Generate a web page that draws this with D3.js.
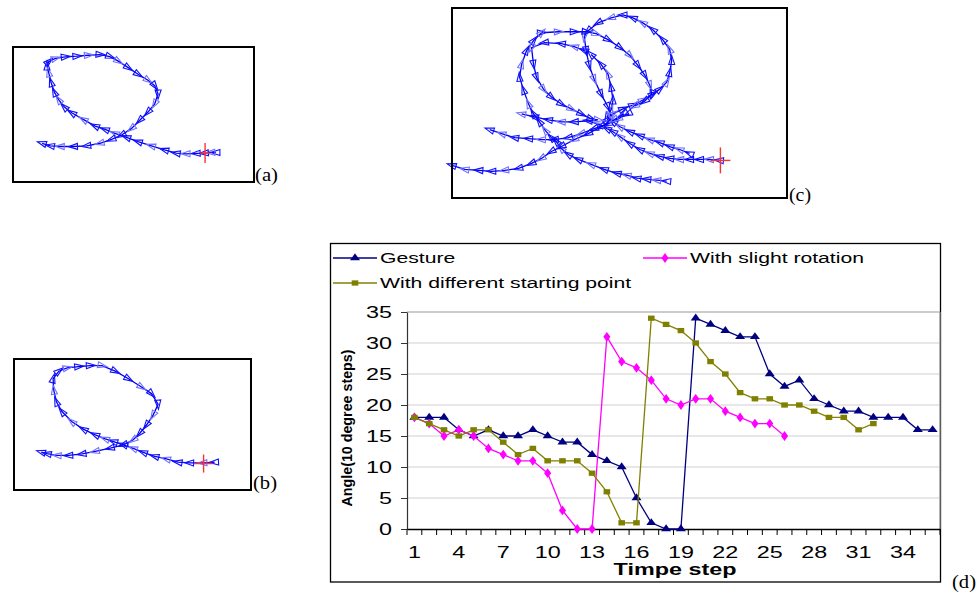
<!DOCTYPE html>
<html><head><meta charset="utf-8">
<script src="https://cdn.jsdelivr.net/npm/d3@7"></script>
<style>body{margin:0;background:#fff}svg{display:block}</style>
</head><body><svg id="fig" width="978" height="594"></svg>
<script>
// ---------- DATA : chart (d) ----------
const timeSteps = [1,2,3,4,5,6,7,8,9,10,11,12,13,14,15,16,17,18,19,20,21,22,23,24,25,26,27,28,29,30,31,32,33,34,35,36];
const gesture = [18,18,18,16,15,16,15,15,16,15,14,14,12,11,10,5,1,0,0,34,33,32,31,31,25,23,24,21,20,19,19,18,18,18,16,16];
const slightRotation = [18,17,15,16,15,13,12,11,11,9,3,0,0,31,27,26,24,21,20,21,21,19,18,17,17,15];
const differentStart = [18,17,16,15,16,16,14,12,13,11,11,11,9,6,1,1,34,33,32,30,27,25,22,21,21,20,20,19,18,18,16,17];
const yTickValues = [0,5,10,15,20,25,30,35];
const xTickLabels = [1,4,7,10,13,16,19,22,25,28,31,34];
const seriesNames = ["Gesture","With slight rotation","With different starting point"];
const xTitle = "Timpe step";
const yTitle = "Angle(10 degree steps)";
const panelLabels = ["(a)","(b)","(c)","(d)"];

// ---------- DATA : trajectories (pen coordinates) ----------
// (a) and (b): units 0-100 across the frame, y upward
const trajA = [[84.2,21.9],[82.1,21.9],[79.4,21.4],[76.0,21.2],[71.8,20.9],[67.7,21.4],[62.9,23.8],[57.4,26.8],[51.9,29.9],[47.1,33.1],[42.3,36.0],[38.2,38.9],[34.1,41.4],[29.3,46.2],[24.5,51.1],[21.3,55.5],[19.0,60.8],[17.2,66.4],[15.8,73.7],[14.8,81.0],[14.1,85.9],[14.8,89.1],[17.6,91.5],[21.7,92.7],[26.5,93.2],[31.3,93.9],[36.1,94.4],[40.2,92.9],[43.7,89.5],[47.8,84.7],[51.9,79.8],[56.0,75.4],[58.8,71.3],[60.2,65.2],[58.8,57.9],[56.0,51.8],[52.6,45.7],[49.2,39.7],[45.1,34.8],[40.9,31.6],[36.1,28.7],[30.6,26.8],[25.1,26.3],[19.6,26.3],[15.5,26.8],[12.1,28.7]];
const crossA = [79.7,21.4];
const trajB = [[84.6,21.2],[79.7,20.7],[74.1,20.7],[69.2,21.2],[64.3,23.7],[59.4,25.7],[54.5,28.7],[50.3,31.7],[46.2,34.5],[42.0,37.0],[38.5,39.0],[34.3,42.1],[29.4,46.3],[24.5,52.1],[20.3,59.7],[17.9,67.3],[16.8,76.1],[16.5,84.9],[18.9,90.7],[22.4,93.2],[27.3,94.2],[32.2,95.0],[37.1,95.0],[42.7,90.7],[48.3,84.9],[53.8,78.6],[58.0,73.6],[60.8,65.5],[58.7,57.2],[55.9,49.6],[53.1,43.3],[50.3,38.3],[46.2,34.5],[40.6,32.0],[34.3,29.5],[28.7,27.5],[23.1,26.4],[18.2,26.4],[14.0,27.7],[11.5,29.0]];
const crossB = [80.0,20.2];
// (c): units 0-337 across, 0-192 up
const trajC = [
 [[269,38],[259,39],[249,39],[239,39],[229,39],[219,40],[209,42],[199,45],[189,49],[179,55],[169,62],[162,67],[156,70],[149,74],[137,78],[123,77],[110,77],[97,79],[83,82],[70,85]],
 [[239,45],[229,49],[219,52],[209,56],[199,59],[189,63],[179,67],[169,72],[162,77],[156,82],[160,89],[162,99],[160,112],[157,125],[150,135],[140,145]],
 [[156,79],[162,85],[172,90],[182,94],[192,99],[202,105],[209,110],[216,117],[219,127],[221,139],[219,150],[212,160],[202,170],[192,177],[182,182],[172,185],[160,182],[147,177],[137,169],[133,163],[135,149],[138,134],[143,120],[150,105],[157,92],[160,82]],
 [[90,167],[107,168],[123,168],[135,168],[145,166],[157,160],[169,152],[179,144],[187,134],[194,124],[199,114],[201,105],[194,98],[184,93]],
 [[216,17],[206,18],[196,19],[186,20],[176,23],[166,25],[153,29],[140,34],[127,39],[117,44],[110,50],[105,57],[100,61],[94,68],[88,77],[82,85],[77,95],[72,109],[68,122],[70,135],[75,149],[82,159],[90,167]],
 [[133,149],[123,153],[110,156],[93,157],[80,152],[82,135],[85,122],[92,110],[100,102],[110,95],[120,90],[130,85],[140,80],[147,79]],
 [[177,85],[167,80],[157,75],[143,70],[130,65],[117,61],[103,59],[90,59],[77,60],[63,61],[50,65],[38,69]],
 [[173,85],[163,79],[150,72],[137,65],[123,59],[110,52],[100,47],[90,40],[80,35],[67,30],[53,28],[40,27],[27,28],[13,29],[0,33]]
];
const crossC = [270,38];

// ---------- DRAWING ----------
const svg = d3.select("#fig");
svg.append("rect").attr("width",978).attr("height",594).attr("fill","#fff");

function drawPanel(cfg){
  const sx = d3.scaleLinear().domain(cfg.xDomain).range([cfg.box[0], cfg.box[2]]);
  const sy = d3.scaleLinear().domain(cfg.yDomain).range([cfg.box[3], cfg.box[1]]);
  const g = svg.append("g");
  const line = d3.line().x(d=>sx(d[0])).y(d=>sy(d[1]));
  cfg.strokes.forEach(st=>{
    g.append("path").attr("d", line(st)).attr("fill","none").attr("stroke","#0000ee").attr("stroke-width",1.3);
    const pts = st.map(d=>[sx(d[0]), sy(d[1])]);
    pts.forEach((p,i)=>{
      const a = pts[Math.max(i-1,0)], b = pts[Math.min(i+1,pts.length-1)];
      const ang = Math.atan2(b[1]-a[1], b[0]-a[0])*180/Math.PI;
      g.append("path").attr("d","M5,0L-4,-3L-4,3Z")
        .attr("transform",`translate(${p[0]},${p[1]}) rotate(${ang})`)
        .attr("fill","none").attr("stroke", i%3===1 ? "#7070ff" : "#1010ff").attr("stroke-width",1.1);
    });
  });
  const cx = sx(cfg.cross[0]), cy = sy(cfg.cross[1]);
  g.append("line").attr("x1",cx).attr("x2",cx).attr("y1",cy-cfg.crossSize[1]).attr("y2",cy+cfg.crossSize[1]).attr("stroke","#ff3030").attr("stroke-width",1.4);
  g.append("line").attr("x1",cx-cfg.crossSize[0]).attr("x2",cx+cfg.crossSize[0]).attr("y1",cy).attr("y2",cy).attr("stroke","#ff3030").attr("stroke-width",1.4);
  g.append("rect").attr("x",cfg.box[0]).attr("y",cfg.box[1]).attr("width",cfg.box[2]-cfg.box[0]).attr("height",cfg.box[3]-cfg.box[1])
    .attr("fill","none").attr("stroke","#000").attr("stroke-width",2);
  svg.append("text").attr("x",cfg.label[0]).attr("y",cfg.label[1]).text(cfg.labelText)
    .attr("font-family","'Liberation Serif','Times New Roman',serif").attr("font-size",19)
    .attr("textLength",cfg.label[2]).attr("lengthAdjust","spacingAndGlyphs");
}

drawPanel({box:[13,47,254,182], xDomain:[0,100], yDomain:[0,100], strokes:[trajA], cross:crossA, crossSize:[5,10], label:[255,181,23], labelText:panelLabels[0]});
drawPanel({box:[14,359,251,490], xDomain:[0,100], yDomain:[0,100], strokes:[trajB], cross:crossB, crossSize:[9,9], label:[253,489,24], labelText:panelLabels[1]});
drawPanel({box:[452,8,787,198], xDomain:[0,337], yDomain:[0,192], strokes:trajC, cross:crossC, crossSize:[10,13], label:[789,201,22], labelText:panelLabels[2]});

// ---------- chart (d) ----------
const FONT = "'Liberation Sans', Arial, sans-serif";
const SX = 1.46;
const plot = {l:407, r:940, t:312, b:529};
const X = d3.scaleBand().domain(timeSteps).range([plot.l, plot.r]);
const Y = d3.scaleLinear().domain([0,35]).range([plot.b, plot.t]);
const d = svg.append("g");

function stext(g, x, y, txt, size, anchor, weight){
  return g.append("text").attr("transform",`translate(${x},${y}) scale(${SX},1)`)
    .attr("text-anchor",anchor).attr("font-family",FONT).attr("font-size",size)
    .attr("font-weight",weight||"normal").attr("fill","#000").text(txt);
}

// frame
d.append("rect").attr("x",330.5).attr("y",243.5).attr("width",610).attr("height",338.5)
  .attr("fill","#fff").attr("stroke","#000").attr("stroke-width",1.3);

// gridlines
yTickValues.filter(v=>v>0).forEach(v=>{
  d.append("line").attr("x1",plot.l).attr("x2",plot.r).attr("y1",Y(v)).attr("y2",Y(v))
    .attr("stroke", v===35 ? "#9a9a9a" : "#cfcfcf").attr("stroke-width",1.2);
});
d.append("line").attr("x1",plot.r).attr("x2",plot.r).attr("y1",plot.t).attr("y2",plot.b).attr("stroke","#9a9a9a").attr("stroke-width",1.2);

// y axis
const yAx = d.append("g").attr("transform",`translate(${plot.l},0)`)
  .call(d3.axisLeft(Y).tickValues(yTickValues).tickSize(6).tickSizeOuter(0));
yAx.select(".domain").attr("stroke","#333").attr("stroke-width",1.2);
yAx.selectAll(".tick line").attr("stroke","#333");
yAx.selectAll(".tick text").remove();
yTickValues.forEach(v=>{ stext(d, plot.l-15, Y(v)+5.6, v, 16, "end"); });

// x axis
const xAx = d.append("g").attr("transform",`translate(0,${plot.b})`)
  .call(d3.axisBottom(X).tickValues([]).tickSizeOuter(0));
xAx.select(".domain").attr("stroke","#000").attr("stroke-width",1.3);
timeSteps.concat([null]).forEach((s,i)=>{
  const x = s===null ? X(timeSteps[timeSteps.length-1]) + X.bandwidth() : X(s);
  d.append("line").attr("x1",x).attr("x2",x).attr("y1",plot.b).attr("y2",plot.b+6).attr("stroke","#000").attr("stroke-width",1);
});
xTickLabels.forEach(s=>{ stext(d, X(s)+X.bandwidth()/2, plot.b+29, s, 16, "middle"); });

// titles
stext(d, 675, 575, xTitle, 16, "middle", "bold");
d.append("text").attr("transform","translate(352,428) rotate(-90)").attr("text-anchor","middle")
  .attr("font-family",FONT).attr("font-size",14).attr("font-weight","bold")
  .attr("textLength",157).attr("lengthAdjust","spacingAndGlyphs").text(yTitle);

// series
const series = [
  {name:seriesNames[0], vals:gesture, color:"#000080", sym:d3.symbolTriangle},
  {name:seriesNames[1], vals:slightRotation, color:"#ff00ff", sym:d3.symbolDiamond},
  {name:seriesNames[2], vals:differentStart, color:"#808000", sym:d3.symbolSquare}
];
const cxOf = i => X(timeSteps[i]) + X.bandwidth()/2;
const ln = d3.line().x((v,i)=>cxOf(i)).y(v=>Y(v));
series.forEach(s=>{
  d.append("path").attr("d", ln(s.vals)).attr("fill","none").attr("stroke",s.color).attr("stroke-width",1.3);
  const symPath = d3.symbol(s.sym, 28)();
  s.vals.forEach((v,i)=>{
    d.append("path").attr("d",symPath).attr("transform",`translate(${cxOf(i)},${Y(v)}) scale(1.25,1)`).attr("fill",s.color);
  });
});

// legend
const legendItems = [
  {s:series[0], x:333, y:258},
  {s:series[1], x:643, y:258},
  {s:series[2], x:333, y:283}
];
legendItems.forEach(li=>{
  d.append("line").attr("x1",li.x).attr("x2",li.x+44).attr("y1",li.y).attr("y2",li.y).attr("stroke",li.s.color).attr("stroke-width",1.3);
  d.append("path").attr("d",d3.symbol(li.s.sym,28)()).attr("transform",`translate(${li.x+22},${li.y}) scale(1.25,1)`).attr("fill",li.s.color);
  stext(d, li.x+47, li.y+5.2, li.s.name, 14.5, "start");
});

// label (d)
svg.append("text").attr("x",952).attr("y",588).text(panelLabels[3])
  .attr("font-family","'Liberation Serif','Times New Roman',serif").attr("font-size",18)
  .attr("textLength",24).attr("lengthAdjust","spacingAndGlyphs");
</script>
</body></html>
